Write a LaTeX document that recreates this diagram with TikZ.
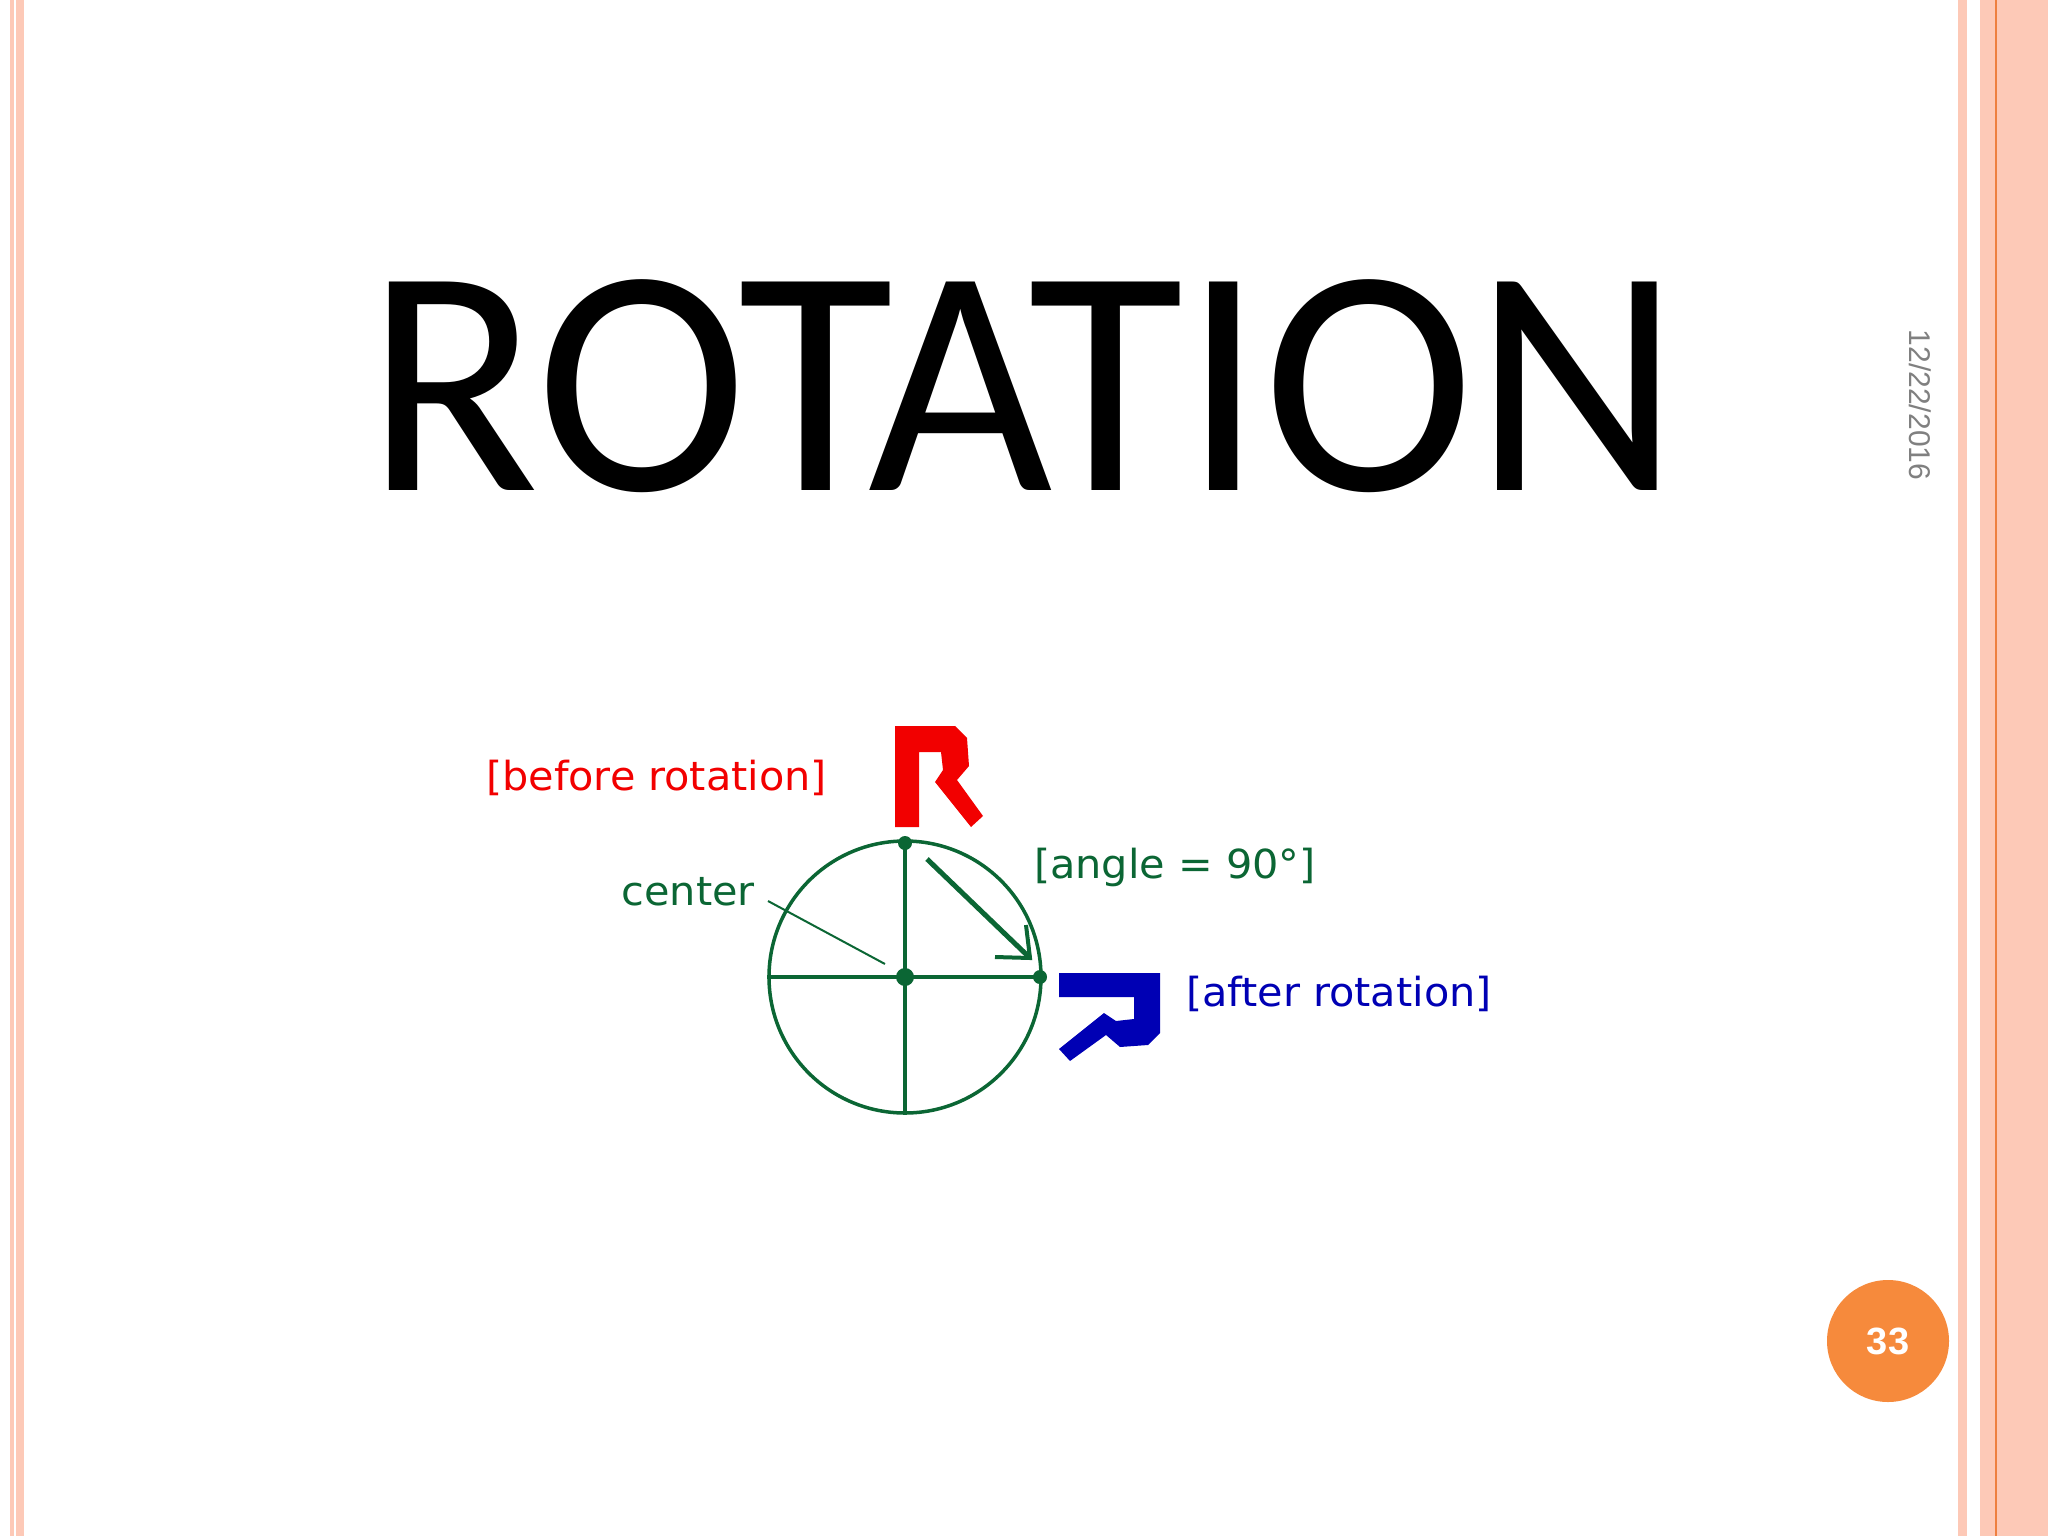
\documentclass[tikz,border=0pt]{standalone}
\usepackage{fontspec}
\setmainfont{Carlito}
\newfontfamily\pixfont{DejaVu Sans Condensed}
\newfontfamily\datefont{Liberation Sans}
\definecolor{pinkb}{HTML}{FDC9B7}
\definecolor{orangel}{HTML}{EE8040}
\definecolor{badge}{HTML}{F68A3C}
\definecolor{dgreen}{HTML}{0B6634}
\definecolor{rred}{HTML}{F20000}
\definecolor{bblue}{HTML}{0000B4}
\begin{document}
\begin{tikzpicture}[x=1pt,y=-1pt,
  lbl/.style={font=\pixfont\fontsize{40}{40}\selectfont,inner sep=0pt,xscale=1.15},
  gline/.style={draw=dgreen,line width=3.5pt},
  dotn/.style={circle,fill=dgreen,inner sep=0pt,minimum size=18pt}]
\useasboundingbox (0,0) rectangle (2048,1536);
\fill[white] (0,0) rectangle (2048,1536);
% borders
\fill[pinkb] (10,0) rectangle (14,1536);
\fill[pinkb] (16,0) rectangle (24,1536);
\fill[pinkb] (1958,0) rectangle (1967,1536);
\fill[pinkb] (1980,0) rectangle (2048,1536);
\fill[orangel] (1995,0) rectangle (1997,1536);
% title
\node[anchor=base,inner sep=0pt,font=\fontsize{325}{325}\selectfont,xscale=0.98] (title) at (1023,490) {ROTATION};
\node[rotate=-90,anchor=center,text=gray,font=\datefont\fontsize{30}{30}\selectfont] (date) at (1920,405) {12/22/2016};
\node[circle,fill=badge,minimum size=122pt,text=white,font=\datefont\bfseries\fontsize{38}{38}\selectfont] (badge) at (1888,1341) {33};
% diagram
\node[draw=dgreen,line width=3.5pt,circle,minimum size=272pt,inner sep=0pt] (circ) at (905,977) {};
\node[dotn] (c) at (905,977) {};
\node[dotn,minimum size=14pt] (top) at (905,843) {};
\node[dotn,minimum size=14pt] (right) at (1040,977) {};
\draw[gline] (circ.north) -- (circ.south);
\draw[gline] (circ.west) -- (circ.east);
\node[lbl,text=dgreen,anchor=base east] (center) at (755,905) {center};
\coordinate (p1) at (768,901);
\coordinate (p2) at (885,964);
\draw[dgreen,line width=2pt] (p1) -- (p2);
\coordinate (a1) at (927,859);
\coordinate (a2) at (1030,958);
\draw[dgreen,line width=5pt] (a1) -- (a2);
\draw[dgreen,line width=4pt] (995,957) -- (a2) -- (1026,925);
\node[lbl,text=dgreen,anchor=base west] (angle) at (1034,878) {[angle = 90°]};
\node[lbl,text=rred,anchor=base west] (before) at (486,790) {[before rotation]};
\node[lbl,text=bblue,anchor=base west] (after) at (1186,1006) {[after rotation]};
% red R (origin 895,726)
\fill[rred] (895,726) -- (955,726) -- (967,738) -- (969,766) -- (957,780) -- (983,816) -- (971,827) -- (935,782) -- (943,770) -- (941,752) -- (919,752) -- (919,827) -- (895,827) -- cycle;
% blue R: (x,y)->(1160-y,973+x)
\fill[bblue] (1160,973) -- (1160,1033) -- (1148,1045) -- (1120,1047) -- (1106,1035) -- (1070,1061) -- (1059,1049) -- (1104,1013) -- (1116,1021) -- (1134,1019) -- (1134,997) -- (1059,997) -- (1059,973) -- cycle;
\end{tikzpicture}
\end{document}
